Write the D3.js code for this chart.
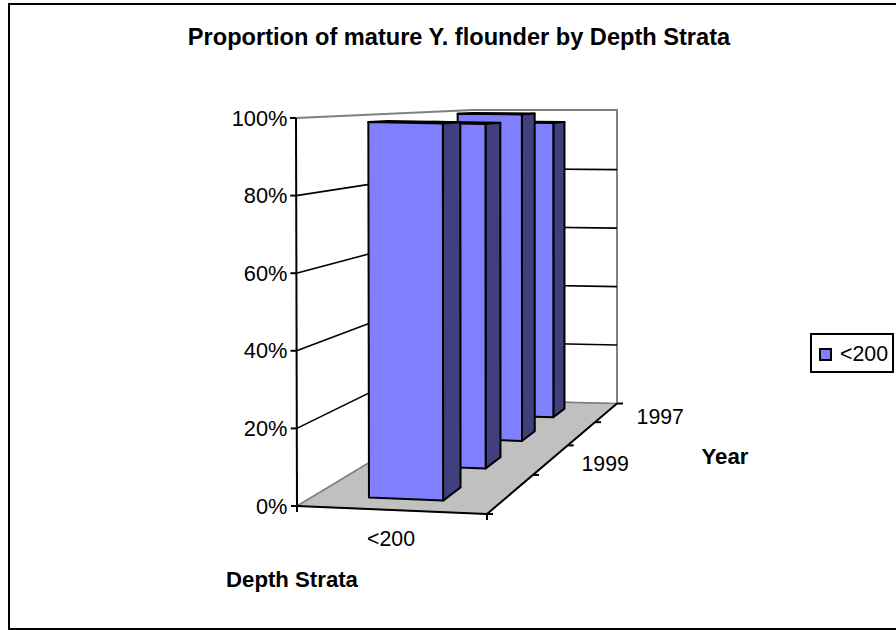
<!DOCTYPE html>
<html><head><meta charset="utf-8">
<script src="https://cdn.jsdelivr.net/npm/d3@7"></script>
<style>html,body{margin:0;padding:0;background:#fff;overflow:hidden}svg{display:block}text{font-family:"Liberation Sans",Arial,sans-serif;fill:#000}</style>
</head><body><svg id="c" width="896" height="630"></svg>
<script>
const title = "Proportion of mature Y. flounder by Depth Strata";
const categories = ["<200"];
const years = ["1997","1998","1999","2000"];
const values = [0.965,1.0,0.98,0.99];
const valueTicks = [0,0.2,0.4,0.6,0.8,1];
const yearLabels = ["1997","1999"];
const seriesName = "<200";
const xTitle = "Depth Strata", yearTitle = "Year";

const svg = d3.select("#c");
svg.append("rect").attr("x",9).attr("y",4).attr("width",900).attr("height",625).attr("fill","#fff").attr("stroke","#000").attr("stroke-width",2);

const fl=[297,506], fr=[487,514], bl=[473,400], br=[617,403.5];
const tfl=[296,118], tfr=[487,122], tbl=[473,110.5], tbr=[617,111.2];
const wallTop=[[296,118],[473,110],[617,110],[617,403.5]];
const lerp=(a,b,t)=>[a[0]+(b[0]-a[0])*t,a[1]+(b[1]-a[1])*t];
const persp=a=>t=>a*t/(1+(a-1)*t);
const project=(u,s,v)=>{
  const b=lerp(lerp(fl,bl,s),lerp(fr,br,s),u);
  const t=lerp(lerp(tfl,tbl,s),lerp(tfr,tbr,s),u);
  return lerp(b,t,v);
};
const xBand=d3.scaleBand().domain(categories).range([0,1]);
const depth=d3.scaleBand().domain(years.slice().reverse()).range([0,1]);
const barDepth=persp(1.35), axisDepth=persp(1.64);
const v=d3.scaleLinear().domain([0,1]).range([0,1]);
const line=pts=>"M"+pts.map(p=>p.join(",")).join("L");
const poly=pts=>line(pts)+"Z";

svg.append("path").attr("d",poly([fl,fr,br,bl])).attr("fill","#c0c0c0").attr("stroke","#808080");
svg.append("path").attr("d",line(wallTop)).attr("fill","none").attr("stroke","#808080").attr("stroke-width",2);
svg.append("path").attr("d",line([fl,bl,br])).attr("fill","none").attr("stroke","#808080").attr("stroke-width",1.6);
valueTicks.filter(d=>d>0&&d<1).forEach(d=>{
  svg.append("path").attr("d",line([project(0,0,v(d)),project(0,1,v(d)),project(1,1,v(d))]))
    .attr("fill","none").attr("stroke","#000").attr("stroke-width",1.6);
});
const uw=0.4, uc=0.293, frac=0.39;
years.forEach((y,i)=>{
  const t0=depth(y)+depth.bandwidth()*(1-frac)/2, t1=t0+depth.bandwidth()*frac;
  const s0=barDepth(t0), s1=barDepth(t1);
  const u0=xBand(categories[0])+uc*xBand.bandwidth(), u1=u0+uw*xBand.bandwidth();
  const h=v(values[i]);
  const g=svg.append("g").attr("stroke","#000").attr("stroke-width",2).attr("stroke-linejoin","round");
  g.append("path").attr("d",poly([project(u0,s0,h),project(u1,s0,h),project(u1,s1,h),project(u0,s1,h)])).attr("fill","#000");
  g.append("path").attr("d",poly([project(u1,s0,0),project(u1,s1,0),project(u1,s1,h),project(u1,s0,h)])).attr("fill","#40407f");
  g.append("path").attr("d",poly([project(u0,s0,0),project(u1,s0,0),project(u1,s0,h),project(u0,s0,h)])).attr("fill","#8080ff");
});
const axis=svg.append("g").attr("stroke","#000").attr("stroke-width",2).attr("fill","none");
axis.append("path").attr("d",line([tfl,fl]));
axis.append("path").attr("d",line([fl,fr]));
axis.append("path").attr("d",line([fr,br]));
valueTicks.forEach(d=>{
  const p=project(0,0,v(d));
  axis.append("path").attr("d",line([[p[0]-6,p[1]],p]));
  svg.append("text").attr("x",287.5).attr("y",p[1]+7.5).attr("text-anchor","end").attr("font-size",21.8).text(d3.format(".0%")(d));
});
[0,1].forEach(u=>{const p=project(u,0,0);axis.append("path").attr("d",line([p,[p[0],p[1]+6]]));});
d3.range(0,5).forEach(i=>{
  const p=project(1,axisDepth(i/4),0);
  axis.append("path").attr("d",line([p,[p[0]+6,p[1]]]));
});
yearLabels.forEach(y=>{
  const c=depth(y)+depth.bandwidth()/2;
  const p=project(1,axisDepth(c),0);
  svg.append("text").attr("x",p[0]+30).attr("y",p[1]+12).attr("font-size",21.3).text(y);
});
svg.append("text").attr("x",391).attr("y",546).attr("text-anchor","middle").attr("font-size",21.3).text(categories[0]);
svg.append("text").attr("x",459).attr("y",45).attr("text-anchor","middle").attr("font-size",23.6).attr("font-weight","bold").text(title);
svg.append("text").attr("x",292).attr("y",586.5).attr("text-anchor","middle").attr("font-size",22.2).attr("font-weight","bold").text(xTitle);
svg.append("text").attr("x",725).attr("y",464).attr("text-anchor","middle").attr("font-size",22.2).attr("font-weight","bold").text(yearTitle);
svg.append("rect").attr("x",811).attr("y",334).attr("width",82).attr("height",38).attr("fill","#fff").attr("stroke","#000").attr("stroke-width",2);
svg.append("rect").attr("x",820).attr("y",349).attr("width",11).attr("height",11).attr("fill","#8080ff").attr("stroke","#000").attr("stroke-width",2);
svg.append("text").attr("x",840).attr("y",361).attr("font-size",21.3).text(seriesName);
</script></body></html>
